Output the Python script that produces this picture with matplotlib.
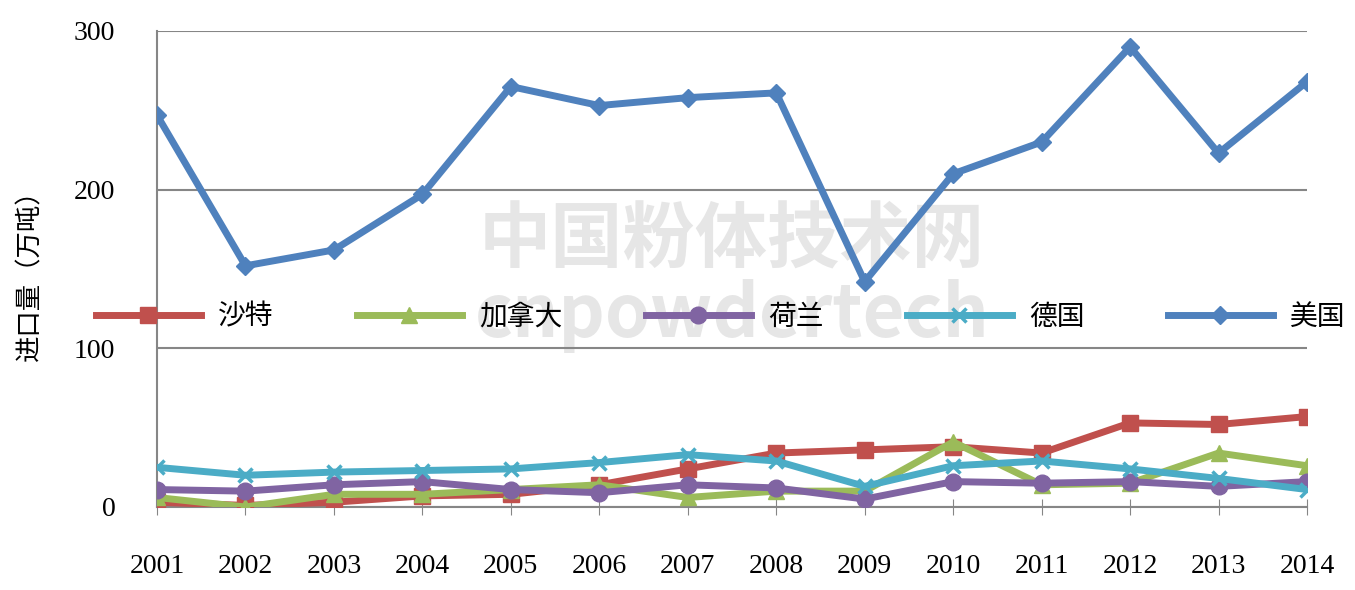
import matplotlib
matplotlib.use("Agg")
import matplotlib.pyplot as plt
from matplotlib import font_manager

# find an installed CJK font by name
cjk = "Noto Sans CJK SC"
names = sorted({f.name for f in font_manager.fontManager.ttflist})
for n in names:
    if "CJK" in n and "SC" in n:
        cjk = n
        break
else:
    for n in names:
        if "CJK" in n:
            cjk = n
            break

plt.rcParams["font.family"] = ["Liberation Serif", cjk]

years = list(range(2001, 2015))
saudi = [3, 1, 3, 7, 8, 14, 24, 34, 36, 38, 34, 53, 52, 57]
canada = [6, 0, 8, 8, 11, 14, 6, 10, 10, 41, 14, 15, 34, 26]
netherlands = [11, 10, 14, 16, 11, 9, 14, 12, 5, 16, 15, 16, 13, 16]
germany = [25, 20, 22, 23, 24, 28, 33, 29, 13, 26, 29, 24, 18, 11]
usa = [247, 152, 162, 197, 265, 253, 258, 261, 142, 210, 230, 290, 223, 268]

series = [
    ("沙特", saudi, "#C0504D", "s", 11),
    ("加拿大", canada, "#9BBB59", "^", 12),
    ("荷兰", netherlands, "#8064A2", "o", 12),
    ("德国", germany, "#4BACC6", "x", 10),
    ("美国", usa, "#4F81BD", "D", 9),
]

fig = plt.figure(figsize=(13.55, 5.9), dpi=100)
ax = fig.add_axes([157 / 1355, 1 - 507 / 590, 1150 / 1355, 476 / 590])
for name, vals, col, mk, ms in series:
    ax.plot(years, vals, color=col, lw=5, marker=mk, ms=ms, mew=2.5 if mk == "x" else 1,
            mec=col, mfc=col, label=name, zorder=3)

ax.set_xlim(2001, 2014)
ax.set_ylim(0, 300)
ax.set_yticks([0, 100, 200, 300])
ax.set_xticks(years)
ax.grid(axis="y", color="#868686", lw=1.5)
for s in ["top", "right"]:
    ax.spines[s].set_visible(False)
for s in ["left", "bottom"]:
    ax.spines[s].set_color("#868686")
    ax.spines[s].set_linewidth(1.5)
ax.tick_params(axis="x", direction="inout", length=12, color="#868686", labelsize=20, pad=28)
ax.tick_params(axis="y", length=0, labelsize=20, pad=30)
ax.set_ylabel("进口量（万吨）", fontsize=19, fontfamily=cjk, labelpad=22)
ax.set_axisbelow(True)

ax.text(0.5, 0.48, "中国粉体技术网\ncnpowdertech", transform=ax.transAxes, ha="center",
        va="center", fontsize=52, color="#e6e6e6", fontweight="bold",
        fontfamily=cjk, zorder=0, linespacing=1.0)

leg = ax.legend(loc="center", bbox_to_anchor=(0.49, 0.40), ncol=5, frameon=False,
                prop={"family": cjk, "size": 20}, handlelength=3.8,
                columnspacing=3.0, handletextpad=0.6)

fig.savefig("out.png")
